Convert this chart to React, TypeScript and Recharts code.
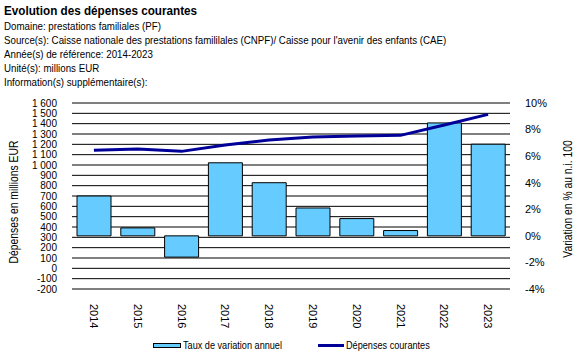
import React from 'react';
import { ComposedChart, Bar, Line, XAxis, YAxis, CartesianGrid } from 'recharts';

const years = ['2014', '2015', '2016', '2017', '2018', '2019', '2020', '2021', '2022', '2023'];
const depenses = [1142, 1155, 1132, 1193, 1242, 1271, 1281, 1287, 1387, 1490];
const variation = [3.0, 0.6, -1.6, 5.5, 4.0, 2.1, 1.3, 0.4, 8.5, 6.9];

const leftTicks = [-200, -100, 0, 100, 200, 300, 400, 500, 600, 700, 800, 900, 1000, 1100, 1200, 1300, 1400, 1500, 1600];
const rightTicks = [-4, -2, 0, 2, 4, 6, 8, 10];

const infoLines = [
  'Domaine: prestations familiales (PF)',
  'Source(s): Caisse nationale des prestations famililales (CNPF)/ Caisse pour l\'avenir des enfants (CAE)',
  'Année(s) de référence: 2014-2023',
  'Unité(s): millions EUR',
  'Information(s) supplémentaire(s):',
];

const data = years.map((y, i) => ({ year: y, depenses: depenses[i], variation: variation[i] }));

const FONT = '"Liberation Sans", Arial, sans-serif';
const BAR_COLOR = '#66ccff';
const LINE_COLOR = '#000099';

const fmtThousands = (v: number) => {
  const s = Math.abs(v).toString();
  const out = s.length > 3 ? s.slice(0, s.length - 3) + ' ' + s.slice(-3) : s;
  return (v < 0 ? '-' : '') + out;
};

const YearTick = ({ x, y, payload }: any) => (
  <text
    x={x}
    y={y + 7}
    transform={`rotate(90 ${x} ${y + 7})`}
    dy="0.36em"
    textAnchor="start"
    fontSize={11}
    fontFamily={FONT}
    fill="#000"
  >
    {payload.value}
  </text>
);

const narrow = (sx: number): React.CSSProperties => ({ transform: `scaleX(${sx})`, transformOrigin: 'left center' });

export default function App() {
  return (
    <div style={{ position: 'absolute', left: 0, top: 0, width: 582, height: 359, background: '#fff', fontFamily: FONT, color: '#000' }}>
      <div style={{ position: 'absolute', left: 4, top: 3, fontSize: 13, fontWeight: 'bold', whiteSpace: 'nowrap', ...narrow(0.9) }}>
        Evolution des dépenses courantes
      </div>
      {infoLines.map((t, i) => (
        <div key={i} style={{ position: 'absolute', left: 4, top: 20 + i * 14, fontSize: 11, whiteSpace: 'nowrap', ...narrow(0.885) }}>
          {t}
        </div>
      ))}

      <div style={{ position: 'absolute', left: 0, top: 0 }}>
        <ComposedChart width={582} height={359} data={data} margin={{ top: 103, right: 0, bottom: 0, left: 0 }}>
          <CartesianGrid yAxisId="left" vertical={false} stroke="#000" strokeWidth={1} />
          <XAxis
            dataKey="year"
            axisLine={false}
            tickLine={false}
            height={70}
            interval={0}
            tick={<YearTick />}
          />
          <YAxis
            yAxisId="left"
            width={72}
            domain={[-200, 1600]}
            ticks={leftTicks}
            interval={0}
            axisLine={false}
            tickLine={false}
            tickMargin={9}
            tickFormatter={fmtThousands}
            tick={{ fontSize: 10, fill: '#000', fontFamily: FONT }}
          />
          <YAxis
            yAxisId="right"
            orientation="right"
            width={72}
            domain={[-4, 10]}
            ticks={rightTicks}
            interval={0}
            axisLine={false}
            tickLine={false}
            tickMargin={9}
            tickFormatter={(v: number) => `${v}%`}
            tick={{ fontSize: 11, fill: '#000', fontFamily: FONT }}
          />
          <Bar
            yAxisId="right"
            dataKey="variation"
            barSize={34}
            fill={BAR_COLOR}
            stroke="#000"
            strokeWidth={1}
            isAnimationActive={false}
          />
          <Line
            yAxisId="left"
            dataKey="depenses"
            type="linear"
            stroke={LINE_COLOR}
            strokeWidth={3}
            dot={false}
            isAnimationActive={false}
          />
        </ComposedChart>
      </div>

      <div
        style={{
          position: 'absolute', left: 14, top: 202, fontSize: 12, whiteSpace: 'nowrap',
          transform: 'translate(-50%, -50%) rotate(-90deg) scaleX(0.86)',
        }}
      >
        Dépenses en millions EUR
      </div>
      <div
        style={{
          position: 'absolute', left: 568, top: 199, fontSize: 12, whiteSpace: 'nowrap',
          transform: 'translate(-50%, -50%) rotate(-90deg) scaleX(0.86)',
        }}
      >
        Variation en % au n.i. 100
      </div>

      <div style={{ position: 'absolute', left: 153, top: 339, display: 'flex', alignItems: 'center', fontSize: 11, whiteSpace: 'nowrap' }}>
        <span style={{ display: 'inline-block', width: 26, height: 3, background: BAR_COLOR, border: '1px solid #000', marginRight: 2 }} />
        <span style={{ display: 'inline-block', ...narrow(0.83) }}>Taux de variation annuel</span>
      </div>
      <div style={{ position: 'absolute', left: 318, top: 339, display: 'flex', alignItems: 'center', fontSize: 11, whiteSpace: 'nowrap' }}>
        <span style={{ display: 'inline-block', width: 26, height: 3, background: LINE_COLOR, marginRight: 2 }} />
        <span style={{ display: 'inline-block', ...narrow(0.83) }}>Dépenses courantes</span>
      </div>
    </div>
  );
}
